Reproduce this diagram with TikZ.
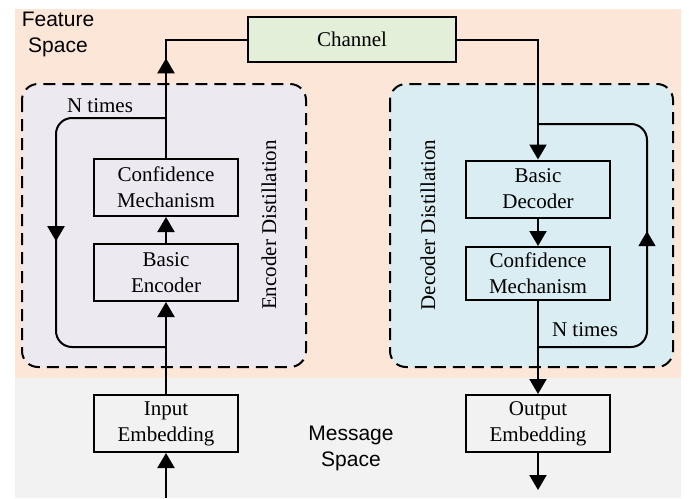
\documentclass[tikz,border=0pt]{standalone}
\usepackage{fontspec}
\setmainfont{Liberation Serif}
\newfontfamily\labelfont{Liberation Sans}
\usetikzlibrary{calc,arrows.meta,decorations.markings}

\definecolor{featbg}{HTML}{FBE6D8}
\definecolor{msgbg}{HTML}{F2F2F2}
\definecolor{encbg}{HTML}{EDE9F1}
\definecolor{decbg}{HTML}{DAEDF3}
\definecolor{chanbg}{HTML}{E3EFD9}

\begin{document}
\begin{tikzpicture}[x=0.5pt,y=-0.5pt,
  font=\fontsize{10.5}{13}\selectfont,
  blk/.style={draw,line width=1pt,align=center,inner sep=0pt,
    minimum width=72pt,minimum height=28.5pt},
  line/.style={line width=1pt},
  tip/.style={-{Triangle[width=8.5pt,length=7.5pt]}},
  midarr/.style={postaction={decorate},decoration={markings,
    mark=at position #1 with {\arrow{Triangle[width=8.5pt,length=7.5pt]}}}},
  dashbox/.style={draw,line width=1pt,dash pattern=on 6pt off 3.5pt,
    rounded corners=8pt},
  spacelbl/.style={font=\labelfont\fontsize{10.5}{13}\selectfont,
    align=center,inner sep=0pt}]
  \useasboundingbox (0,0) rectangle (689,498);

  %% Background: feature space and message space
  \fill[featbg] (15,9) rectangle (681,378);
  \fill[msgbg] (15,378) rectangle (681,498);
  \node[spacelbl] (FEATLBL) at (58,34) {Feature\\Space};
  \node[spacelbl] (MSGLBL) at (351,448) {Message\\Space};

  %% Distillation regions
  \draw[dashbox,fill=encbg] (22,84) rectangle (306,367);
  \draw[dashbox,fill=decbg] (390,84) rectangle (673,367);
  \node[rotate=90] (ENCLBL) at (269,225) {Encoder Distillation};
  \node[rotate=90] (DECLBL) at (428,225) {Decoder Distillation};

  %% Blocks
  \node[blk,fill=chanbg,minimum width=104pt,minimum height=22.5pt] (CHAN) at (352,39.5) {Channel};
  \node[blk] (ECONF) at (166,187.5) {Confidence\\Mechanism};
  \node[blk] (EBASIC) at (166,272.5) {Basic\\Encoder};
  \node[blk] (INEMB) at (166,423.5) {Input\\Embedding};
  \node[blk] (DBASIC) at (538,189) {Basic\\Decoder};
  \node[blk,minimum height=26.5pt] (DCONF) at (538,273.5) {Confidence\\Mechanism};
  \node[blk] (OUTEMB) at (538,423.5) {Output\\Embedding};

  %% Loop points
  \coordinate (EJ) at (166,118);
  \coordinate (EJB) at (166,347);
  \coordinate (ELOOP) at (56,347);
  \coordinate (DJ) at (538,124);
  \coordinate (DJB) at (538,347);
  \coordinate (DLOOP) at (647,124);
  \coordinate (INSRC) at (166,498);
  \coordinate (OUTDST) at (538,490);

  %% Encoder path
  \draw[line,tip] (INSRC) -- (INEMB.south);
  \draw[line,tip] (INEMB.north) -- (EBASIC.south);
  \draw[line,tip] (EBASIC.north) -- (ECONF.south);
  \draw[line,midarr=0.5] (ECONF.north) |- (CHAN.west);
  \draw[line,rounded corners=8pt,midarr=0.52] (EJ) -| (ELOOP) -- (EJB);
  \node (ENT) at (100,106) {N times};

  %% Decoder path
  \draw[line,tip] (CHAN.east) -| (DBASIC.north);
  \draw[line,tip] (DBASIC.south) -- (DCONF.north);
  \draw[line,tip] (DCONF.south) -- (OUTEMB.north);
  \draw[line,tip] (OUTEMB.south) -- (OUTDST);
  \draw[line,rounded corners=8pt,midarr=0.51] (DJB) -| (DLOOP) -- (DJ);
  \node (DNT) at (585,330) {N times};
\end{tikzpicture}
\end{document}
